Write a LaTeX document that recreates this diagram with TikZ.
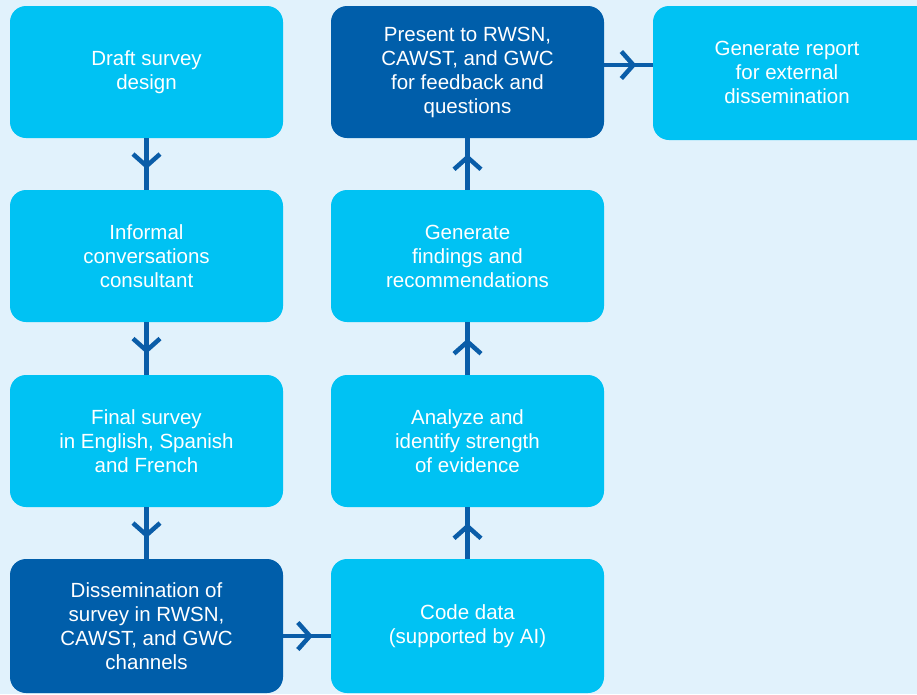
\documentclass[tikz,border=0pt]{standalone}
\usepackage{fontspec}
\setmainfont{Liberation Sans}
\usetikzlibrary{decorations.markings}
\definecolor{bgc}{HTML}{E1F2FC}
\definecolor{lightbox}{HTML}{00C2F3}
\definecolor{darkbox}{HTML}{005EAA}
\definecolor{arrowc}{HTML}{0A5DA8}
\begin{document}
\begin{tikzpicture}[x=1pt,y=-1pt,
  box/.style={rounded corners=16pt, minimum width=273pt, minimum height=132pt,
    text=white, align=center, font=\fontsize{20.5}{24}\selectfont, inner sep=0pt},
  lbox/.style={box, fill=lightbox},
  dbox/.style={box, fill=darkbox},
  flow/.style={draw=arrowc, line width=4.5pt, postaction={decorate},
    decoration={markings, mark=at position #1 with {\draw[arrowc, line width=4.5pt, line join=miter, line cap=butt] (-12pt,-13.5pt) -- (0pt,0pt) -- (-12pt,13.5pt);}}}
]
\fill[bgc] (0,0) rectangle (917,694);
\useasboundingbox (0,0) rectangle (917,694);
% left column
\node[lbox] (b1) at (146.5,72) {Draft survey\\design};
\node[lbox] (b2) at (146.5,256) {Informal\\conversations\\consultant};
\node[lbox] (b3) at (146.5,441) {Final survey\\in English, Spanish\\and French};
\node[dbox, minimum height=134pt] (b4) at (146.5,626) {Dissemination of\\survey in RWSN,\\CAWST, and GWC\\channels};
% middle column
\node[dbox] (m1) at (467.5,72) {Present to RWSN,\\CAWST, and GWC\\for feedback and\\questions};
\node[lbox] (m2) at (467.5,256) {Generate\\findings and\\recommendations};
\node[lbox] (m3) at (467.5,441) {Analyze and\\identify strength\\of evidence};
\node[lbox, minimum height=134pt] (m4) at (467.5,626) {Code data\\(supported by AI)};
% right
\node[lbox, minimum width=280pt, minimum height=134pt] (r1) at (793,73) {};
\node[text=white, align=center, font=\fontsize{20.5}{24}\selectfont, inner sep=0pt] (r1t) at (787,72) {Generate report\\for external\\dissemination};
% connectors
\draw[flow=0.54] (b1.south) -- (b2.north);
\draw[flow=0.54] (b2.south) -- (b3.north);
\draw[flow=0.54] (b3.south) -- (b4.north);
\coordinate (h1) at (b4.east |- 0,636);
\coordinate (h2) at (m4.west |- 0,636);
\draw[flow=0.56] (h1) -- (h2);
\draw[flow=0.63] (m4.north) -- (m3.south);
\draw[flow=0.63] (m3.north) -- (m2.south);
\draw[flow=0.63] (m2.north) -- (m1.south);
\coordinate (h3) at (m1.east |- 0,65);
\coordinate (h4) at (r1.west |- 0,65);
\draw[flow=0.6] (h3) -- (h4);
\end{tikzpicture}
\end{document}
